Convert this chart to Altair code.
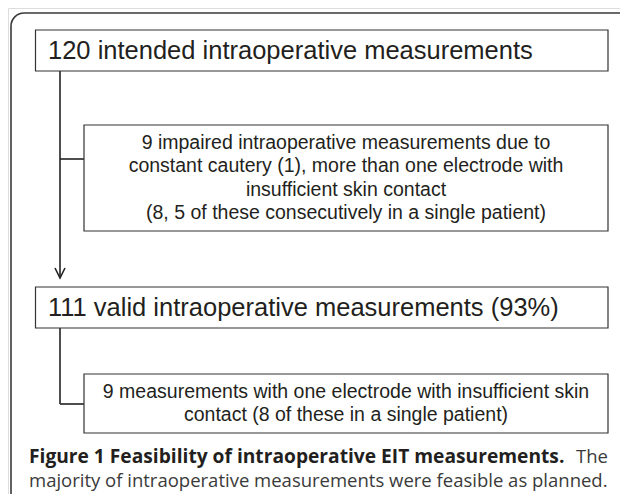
import altair as alt
import pandas as pd

# ---- content -------------------------------------------------------------
box_texts = [
    ["120 intended intraoperative measurements"],
    ["9 impaired intraoperative measurements due to",
     "constant cautery (1), more than one electrode with",
     "insufficient skin contact",
     "(8, 5 of these consecutively in a single patient)"],
    ["111 valid intraoperative measurements (93%)"],
    ["9 measurements with one electrode with insufficient skin",
     "contact (8 of these in a single patient)"],
]
box_kind = ["main", "side", "main", "side"]
caption_bold = "Figure 1 Feasibility of intraoperative EIT measurements."
caption_rest1 = "The"
caption_line2 = "majority of intraoperative measurements were feasible as planned."

# ---- layout (image pixel coordinates) -------------------------------------
box_x1 = [35.5, 84, 35.5, 84]
box_x2 = [608, 608, 608, 608]
box_y1 = [30, 125, 287, 374]
box_y2 = [71, 231, 328, 433]
line_h = 23.5

seg_x1 = [60, 60, 60, 60]
seg_x2 = [60, 84, 60, 84]
seg_y1 = [71, 159, 328, 404]
seg_y2 = [277, 159, 404, 404]

W, H = 612, 486
xs = alt.Scale(domain=[8, 8 + W], nice=False, zero=False)
ys = alt.Scale(domain=[8, 8 + H], nice=False, zero=False, reverse=True)

boxes = pd.DataFrame({"x": box_x1, "x2": box_x2, "y": box_y1, "y2": box_y2})

rows = []
for lines, k, a, b, c, d in zip(box_texts, box_kind, box_x1, box_x2, box_y1, box_y2):
    n = len(lines)
    cy = (c + d) / 2
    for i, t in enumerate(lines):
        rows.append({
            "text": t, "kind": k,
            "tx": 48 if k == "main" else (a + b) / 2,
            "ty": cy + (i - (n - 1) / 2) * line_h,
        })
texts = pd.DataFrame(rows)

segs = pd.DataFrame({"x": seg_x1, "x2": seg_x2, "y": seg_y1, "y2": seg_y2})

X = lambda f: alt.X(f, scale=xs, axis=None)
Y = lambda f: alt.Y(f, scale=ys, axis=None)

frame = alt.Chart(pd.DataFrame({"x": [11], "x2": [640], "y": [13], "y2": [560]})).mark_rect(
    fill=None, stroke="#3a3a3a", strokeWidth=1.6, cornerRadius=13, clip=False
).encode(x=X("x:Q"), x2="x2:Q", y=Y("y:Q"), y2="y2:Q")

rects = alt.Chart(boxes).mark_rect(fill="white", stroke="#333333", strokeWidth=1.2).encode(
    x=X("x:Q"), x2="x2:Q", y=Y("y:Q"), y2="y2:Q"
)

rules = alt.Chart(segs).mark_rule(color="#222222", strokeWidth=1.6).encode(
    x=X("x:Q"), x2="x2:Q", y=Y("y:Q"), y2="y2:Q"
)

arrow = alt.Chart(pd.DataFrame({"x": [60], "y": [278]})).mark_point(
    shape="M-0.5,-1L0,0L0.5,-1", filled=False, stroke="#222222", strokeWidth=1.6, size=400, opacity=1
).encode(x=X("x:Q"), y=Y("y:Q"))

main_text = alt.Chart(texts[texts.kind == "main"]).mark_text(
    font="Liberation Sans", fontSize=25.5, align="left", baseline="middle", color="#231f20"
).encode(x=X("tx:Q"), y=Y("ty:Q"), text="text:N")

side_text = alt.Chart(texts[texts.kind == "side"]).mark_text(
    font="Liberation Sans", fontSize=19.5, align="center", baseline="middle", color="#231f20"
).encode(x=X("tx:Q"), y=Y("ty:Q"), text="text:N")

cap = pd.DataFrame({
    "x": [29, 608, 29],
    "y": [457, 457, 481],
    "text": [caption_bold, caption_rest1, caption_line2],
})
cap_bold = alt.Chart(cap.iloc[[0]]).mark_text(
    font="Open Sans", fontSize=19.2, fontWeight="bold", align="left", baseline="middle", color="#231f20"
).encode(x=X("x:Q"), y=Y("y:Q"), text="text:N")
cap_the = alt.Chart(cap.iloc[[1]]).mark_text(
    font="Open Sans", fontSize=18.5, align="right", baseline="middle", color="#3a3a3a"
).encode(x=X("x:Q"), y=Y("y:Q"), text="text:N")
cap_l2 = alt.Chart(cap.iloc[[2]]).mark_text(
    font="Open Sans", fontSize=18.5, align="left", baseline="middle", color="#3a3a3a"
).encode(x=X("x:Q"), y=Y("y:Q"), text="text:N")

chart = alt.layer(frame, rules, rects, arrow, main_text, side_text, cap_bold, cap_the, cap_l2).properties(
    width=W, height=H, padding=0,
    autosize=alt.AutoSizeParams(type="none"),
).configure_view(stroke=None).configure(background="white")

chart.save("out.html", embed_options={"renderer": "svg", "actions": False})
